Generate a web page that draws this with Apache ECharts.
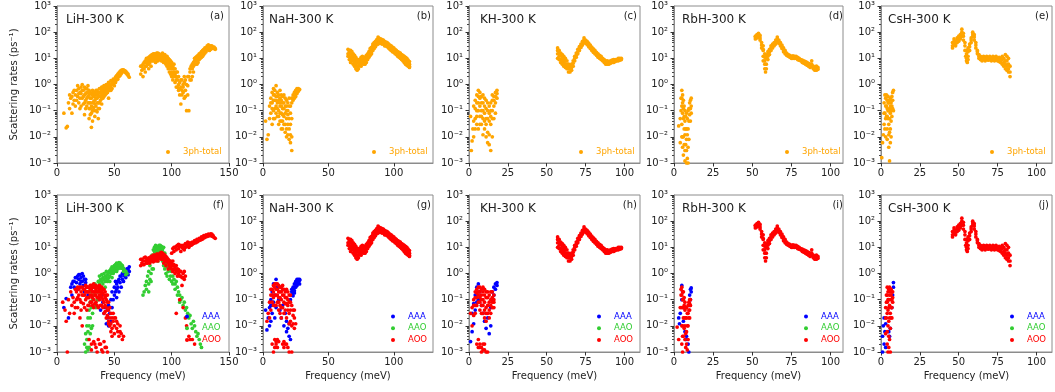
<!DOCTYPE html>
<html><head><meta charset="utf-8">
<script src="https://cdn.jsdelivr.net/npm/echarts@6/dist/echarts.min.js"></script>
<style>html,body{margin:0;padding:0;background:#fff}#c{width:1055px;height:392px}</style>
</head><body><div id="c"></div>
<script>
// ---------------- data (x = frequency meV, y = scattering rate ps^-1) ----------------
const lihTotal = [[6,0.08],[8,0.022],[9,0.025],[10,0.2],[11,0.12],[12,0.3],[13,0.08],[14,0.5],[15,0.25],[16,0.15],[17,0.6],[18,0.35],[18,0.9],[19,0.2],[20,0.5],[20,0.12],[21,0.8],[22,0.3],[22,1.0],[23,0.6],[23,0.18],[24,0.4],[24,0.07],[25,0.25],[25,0.7],[26,0.5],[26,0.15],[27,0.35],[27,0.9],[28,0.05],[28,0.2],[28,0.6],[29,0.3],[29,0.12],[30,0.45],[30,0.023],[30,0.08],[31,0.2],[31,0.6],[31,0.04],[32,0.35],[32,0.1],[32,0.13],[33,0.5],[33,0.25],[33,0.06],[34,0.4],[34,0.15],[35,0.3],[35,0.6],[35,0.09],[36,0.2],[36,0.45],[36,0.05],[37,0.35],[37,0.7],[37,0.12],[38,0.25],[38,0.5],[39,0.4],[39,0.8],[39,0.18],[40,0.3],[40,0.6],[41,0.5],[41,0.9],[42,0.4],[42,0.7],[43,0.6],[43,1.0],[44,0.5],[44,0.8],[45,0.3],[45,0.7],[45,1.2],[46,0.6],[46,1.0],[47,0.8],[47,1.4],[48,0.7],[48,1.2],[49,1.0],[49,1.6],[50,0.9],[50,1.4],[51,1.2],[51,1.9],[52,1.5],[52,2.2],[53,1.6],[53,2.5],[54,2.0],[54,2.8],[55,2.2],[55,3.2],[56,2.6],[56,3.5],[57,3.0],[57,3.6],[58,3.3],[59,3.0],[60,2.8],[61,2.5],[62,2.2],[63,1.9],
[11,0.4],[13,0.35],[14,0.18],[15,0.6],[16,0.4],[17,0.25],[19,0.45],[19,0.7],[20,0.3],[21,0.15],[21,0.45],[22,0.6],[23,0.35],[24,0.8],[24,0.2],[25,0.45],[25,0.12],[26,0.3],[26,0.7],[27,0.2],[27,0.5],[28,0.4],[28,0.12],[29,0.5],[29,0.2],[29,0.07],[30,0.3],[30,0.15],[31,0.4],[31,0.1],[32,0.5],[32,0.22],[33,0.4],[33,0.18],[34,0.3],[34,0.6],[34,0.1],[35,0.2],[35,0.45],[36,0.35],[36,0.12],[37,0.5],[37,0.2],[38,0.35],[38,0.7],[39,0.3],[39,0.6],[40,0.45],[40,0.8],[41,0.35],[41,0.7],[42,0.55],[42,0.9],[43,0.45],[43,0.8],[44,0.65],[44,1.0],[46,0.8],[47,0.6],[48,1.0],[49,1.3],[50,1.2],[51,1.6],[52,1.8],[53,2.0],[54,2.4],[55,2.7],[56,3.0],[57,3.3],[58,3.6],[59,3.4],[60,3.2],[61,2.8],[62,2.5],
[73,2.5],[73,5],[74,3.5],[75,6],[75,2],[76,4],[77,8],[77,3],[78,5],[79,10],[79,6],[80,4],[80,8],[81,12],[81,7],[82,9],[82,5],[83,14],[83,10],[84,8],[84,12],[85,15],[85,10],[86,12],[86,7],[87,16],[87,10],[88,13],[88,8],[89,15],[89,11],[90,12],[90,9],[91,14],[91,10],[92,16],[92,8],[93,12],[93,7],[94,11],[94,14],[95,9],[95,6],[96,10],[96,5],[97,8],[97,4],[98,7],[98,3],[99,6],[99,2.5],[100,5],[100,2],[101,4],[101,1.5],[102,3],[102,6],[103,2.5],[103,1.2],[104,2],[104,0.8],[105,1.5],[105,3],[106,1],[106,0.6],[107,1.2],[107,0.4],[108,0.8],[108,0.18],[109,0.6],[109,1.5],[110,0.5],[110,1.0],[111,0.3],[111,2],[112,0.6],[113,0.1],[113,1],[114,0.4],[115,0.1],[115,2],[116,3],[117,1.5],[117,5],[118,4],[119,7],[119,3],[120,6],[120,10],[121,8],[122,12],[122,6],[123,10],[124,15],[124,9],[125,13],[126,18],[126,11],[127,16],[128,22],[128,14],[129,20],[130,25],[130,18],[131,22],[131,30],[132,26],[133,28],[133,20],[134,25],[135,30],[136,27],[137,24],[138,22],
[74,5],[75,4],[76,7],[77,5],[78,7],[78,10],[79,8],[80,11],[80,6],[81,9],[82,11],[82,13],[83,8],[83,12],[84,10],[84,15],[85,12],[86,10],[86,14],[87,12],[87,8],[88,11],[88,16],[89,9],[89,13],[90,14],[90,11],[91,12],[91,8],[92,11],[92,13],[93,9],[93,14],[94,8],[95,12],[95,7],[96,8],[96,12],[97,6],[97,10],[98,5],[98,9],[99,4],[99,8],[100,3],[100,7],[101,2.5],[101,5],[102,2],[102,4],[103,4],[104,1.5],[104,3],[105,0.8],[106,2],[107,0.7],[108,1.5],[109,0.4],[110,0.8],[111,1.2],[112,1.5],[112,0.35],[114,2],[114,0.9],[116,1.5],[116,4],[118,2],[118,6],[119,5],[120,8],[121,6],[121,11],[122,9],[123,13],[123,7],[124,11],[125,16],[125,10],[126,14],[127,20],[127,12],[128,17],[129,25],[129,16],[130,21],[131,27],[132,22],[132,33],[133,25],[134,30],[134,22],[135,26],[136,24],[137,27],[138,24]];
const lihAAA = [[6,0.05],[8,0.11],[10,0.02],[12,0.3],[13,0.15],[14,0.5],[15,0.3],[16,0.7],[17,0.45],[18,0.8],[18,0.25],[19,0.6],[20,0.9],[20,0.4],[21,0.7],[22,0.5],[22,1.0],[23,0.35],[24,0.6],[24,0.2],[25,0.45],[26,0.3],[27,0.15],[38,0.04],[39,0.15],[40,0.08],[41,0.03],[42,0.05],[43,0.012],[44,0.02],[45,0.06],[45,0.01],[46,0.03],[47,0.015],[47,0.1],[48,0.05],[48,0.2],[49,0.1],[50,0.15],[50,0.3],[51,0.2],[52,0.4],[52,0.12],[53,0.3],[54,0.6],[54,0.2],[55,0.45],[56,0.8],[56,0.3],[57,0.6],[58,1.0],[58,0.5],[59,0.8],[60,1.2],[60,0.7],[61,1.0],[62,1.5],[62,0.9],[63,1.2],[63,1.8],
[13,0.4],[15,0.5],[17,0.7],[19,0.9],[21,0.5],[23,0.8],[25,0.6],[55,0.8],[57,1.0],[59,1.3],[61,1.5],[52,0.25],[51,0.5],[53,0.5]];
const lihAAO = [[24,0.002],[25,0.005],[25,0.001],[26,0.01],[26,0.003],[27,0.02],[27,0.006],[27,0.0012],[28,0.04],[28,0.01],[28,0.0015],[29,0.08],[29,0.02],[30,0.05],[30,0.2],[30,0.008],[31,0.1],[31,0.03],[32,0.15],[32,0.3],[33,0.06],[33,0.4],[34,0.2],[35,0.3],[35,0.1],[36,0.5],[36,0.2],[37,0.4],[37,0.8],[38,0.3],[38,0.6],[39,0.5],[39,0.9],[40,0.4],[40,0.7],[41,0.6],[41,1.0],[42,0.8],[42,0.5],[43,0.7],[43,1.2],[44,0.9],[44,0.5],[45,1.1],[45,0.7],[46,1.3],[46,0.8],[47,1.0],[47,1.5],[48,1.2],[48,1.8],[49,1.5],[49,1.0],[50,1.7],[50,2.0],[51,1.4],[51,2.2],[52,1.8],[52,2.5],[53,2.0],[53,1.5],[54,2.3],[54,2.6],[55,2.5],[55,1.8],[56,2.2],[57,2.0],[57,1.6],[58,1.6],[59,1.3],[60,1.2],[61,1.0],
[34,0.05],[36,0.1],[38,0.15],[40,0.25],[42,0.3],[44,0.6],[46,0.5],[48,0.7],[50,1.2],[52,1.2],[54,1.6],[56,1.6],[58,1.2],[60,0.9],[27,0.003],[29,0.005],[31,0.01],[26,0.0015],
[75,0.15],[76,0.2],[77,0.35],[78,0.5],[78,0.25],[79,0.8],[80,0.4],[80,1.2],[81,0.6],[81,2],[82,1],[82,3],[83,1.5],[83,5],[84,3],[84,8],[85,4],[85,10],[86,6],[86,12],[87,8],[87,5],[88,10],[88,3],[89,12],[89,7],[90,9],[90,5],[91,11],[91,4],[92,8],[92,3],[93,10],[93,2],[94,6],[94,1.5],[95,4],[95,1],[96,3],[96,0.8],[97,2.5],[98,2],[98,0.6],[99,1.5],[100,1.2],[100,0.5],[101,0.8],[102,0.6],[103,0.4],[104,0.5],[105,0.3],[106,0.2],[107,0.15],[108,0.1],[109,0.12],[110,0.06],[111,0.08],[112,0.04],[113,0.05],[114,0.03],[115,0.02],[116,0.025],[117,0.012],[118,0.008],[119,0.015],[120,0.01],[121,0.006],[122,0.004],[123,0.005],[124,0.003],[125,0.002],[126,0.0015],
[85,7],[86,9],[87,11],[88,7],[89,9],[90,12],[91,7],[92,10],[93,6],[94,4],[95,2.5],[96,1.8],[97,1.2],[99,0.8],[101,0.4],[103,0.25],[105,0.15],[107,0.08],[80,0.2],[82,0.5],[84,1.5]];
const lihAOO = [[5,0.08],[7,0.04],[8,0.015],[9,0.001],[10,0.1],[11,0.03],[12,0.2],[13,0.06],[14,0.12],[15,0.03],[16,0.25],[17,0.1],[18,0.3],[18,0.05],[19,0.15],[20,0.02],[21,0.2],[21,0.08],[22,0.3],[22,0.01],[23,0.15],[24,0.25],[24,0.05],[25,0.35],[25,0.1],[26,0.2],[26,0.04],[27,0.3],[27,0.12],[28,0.2],[28,0.06],[28,0.003],[29,0.35],[29,0.15],[30,0.25],[30,0.08],[30,0.002],[31,0.3],[31,0.12],[32,0.2],[32,0.4],[32,0.05],[33,0.3],[33,0.15],[33,0.002],[34,0.25],[34,0.08],[35,0.3],[35,0.12],[35,0.001],[36,0.2],[36,0.05],[36,0.003],[37,0.25],[37,0.1],[38,0.3],[38,0.15],[38,0.002],[39,0.2],[39,0.06],[40,0.25],[40,0.1],[40,0.001],[41,0.15],[41,0.03],[42,0.2],[42,0.06],[42,0.0015],[43,0.1],[43,0.02],[44,0.15],[44,0.04],[44,0.001],[45,0.08],[45,0.015],[46,0.05],[46,0.01],[47,0.03],[47,0.006],[48,0.02],[48,0.008],[49,0.015],[50,0.01],[50,0.005],[51,0.02],[52,0.008],[53,0.012],[54,0.004],[55,0.006],[57,0.003],
[15,0.08],[16,0.05],[17,0.2],[18,0.12],[19,0.25],[20,0.1],[20,0.3],[21,0.04],[22,0.15],[23,0.25],[23,0.07],[24,0.15],[25,0.2],[26,0.3],[26,0.12],[27,0.2],[27,0.06],[28,0.3],[28,0.12],[29,0.25],[29,0.08],[30,0.35],[30,0.15],[31,0.2],[31,0.06],[32,0.3],[32,0.1],[33,0.2],[33,0.07],[34,0.35],[34,0.15],[35,0.2],[35,0.06],[36,0.3],[36,0.12],[37,0.35],[37,0.15],[38,0.2],[38,0.06],[39,0.3],[39,0.12],[40,0.18],[40,0.05],[41,0.25],[41,0.08],[42,0.12],[42,0.035],[43,0.15],[43,0.05],[44,0.08],[44,0.025],[45,0.04],[45,0.012],[46,0.02],[47,0.012],[48,0.004],[49,0.03],[50,0.02],[52,0.015],[53,0.006],[55,0.01],[56,0.005],[58,0.004],[30,0.0012],[32,0.0025],[34,0.0015],[37,0.002],[39,0.0012],[41,0.0025],[43,0.0015],
[73,2],[73,3.5],[74,2.5],[75,3],[76,2.2],[76,4],[77,3],[78,2.5],[78,3.8],[79,3.2],[80,2.8],[80,4],[81,3.5],[82,3],[82,4.5],[83,3.5],[84,4],[84,2.8],[85,3.5],[85,5],[86,4.2],[87,3.6],[87,5.5],[88,4.5],[88,3],[89,5],[90,4],[90,6],[91,5],[91,3.5],[92,4.5],[92,6],[93,4],[93,2.5],[94,3.5],[94,5],[95,3],[95,2],[96,2.8],[96,4],[97,2.5],[97,1.5],[98,2],[98,3],[99,1.8],[100,1.5],[100,2.5],[101,1.2],[101,2],[102,1.5],[103,1],[103,1.8],[104,1.2],[105,0.8],[105,1.5],[106,1],[107,0.8],[108,1.2],[109,0.35],[109,0.7],[110,1],[111,0.6],[112,0.8],[104,0.03],[107,0.1],[110,0.05],[112,0.02],[113,0.01],[115,0.004],[116,0.003],[118,0.003],[120,0.002],
[74,3.5],[75,2.2],[77,4.2],[79,2.5],[81,2.5],[83,4.5],[84,5],[86,3],[88,5.5],[89,3.8],[90,5],[91,6.5],[92,3.5],[93,5.5],[94,2.8],[95,4.5],[96,3.5],[97,3.5],[98,2.5],[99,3],[100,2],[101,3],[102,2.2],[103,1.4],[104,2],[106,1.4],[107,1.2],[108,0.8],[110,0.7],[111,1.2],
[100,6],[101,9],[102,7],[103,10],[104,8],[105,12],[106,9],[107,11],[108,7],[109,10],[110,12],[111,8],[112,14],[113,11],[114,13],[115,10],[116,15],[117,12],[118,16],[119,14],[120,18],[121,15],[122,20],[123,17],[124,22],[125,19],[126,25],[127,21],[128,28],[129,24],[130,30],[131,26],[132,32],[133,28],[134,30],[135,27],[136,26],[137,24],[138,22],
[102,10],[104,11],[106,13],[108,12],[110,9],[112,10],[114,16],[116,12],[118,13],[120,15],[122,16],[124,19],[126,20],[128,23],[130,26],[132,28],[134,33],[135,32],[136,29]];

const nahLow = [[2,0.04],[3,0.008],[4,0.012],[5,0.05],[5,0.15],[6,0.3],[6,0.08],[7,0.5],[7,0.2],[7,0.03],[8,0.4],[8,0.1],[8,0.7],[9,0.25],[9,0.6],[9,0.05],[10,0.9],[10,0.35],[10,0.15],[11,0.5],[11,0.2],[11,0.06],[12,0.4],[12,0.1],[12,0.03],[13,0.3],[13,0.15],[13,0.6],[14,0.25],[14,0.08],[14,0.02],[15,0.35],[15,0.12],[15,0.04],[16,0.2],[16,0.06],[16,0.4],[17,0.15],[17,0.03],[17,0.3],[18,0.1],[18,0.02],[18,0.25],[19,0.07],[19,0.012],[19,0.2],[20,0.05],[20,0.008],[20,0.3],[21,0.006],[21,0.03],[21,0.15],[22,0.003],[22,0.2],[22,0.01],[23,0.3],[23,0.25],[24,0.4],[24,0.3],[25,0.5],[25,0.35],[26,0.6],[26,0.45],[27,0.7],[27,0.55],[28,0.65],
[6,0.2],[7,0.12],[8,0.25],[8,0.05],[9,0.4],[9,0.12],[10,0.25],[10,0.08],[11,0.35],[11,0.12],[12,0.25],[12,0.06],[13,0.2],[13,0.08],[13,0.04],[14,0.15],[14,0.4],[14,0.04],[15,0.2],[15,0.07],[15,0.02],[16,0.12],[16,0.03],[17,0.08],[17,0.015],[18,0.05],[18,0.15],[18,0.01],[19,0.1],[19,0.03],[20,0.15],[20,0.02],[21,0.08],[21,0.012],[22,0.05],[22,0.3],[23,0.4],[24,0.5],[25,0.6],[26,0.7],[27,0.6]];
const nahHigh = [[65,22],[65,15],[66,18],[66,12],[67,20],[67,10],[68,14],[68,8],[69,12],[69,6],[70,10],[70,5],[71,8],[71,4],[72,9],[72,3.5],[73,7],[73,5],[74,9],[74,6],[75,8],[75,5],[76,10],[76,7],[77,9],[77,6],[78,11],[78,8],[79,10],[79,13],[80,12],[80,9],[81,14],[81,18],[82,16],[82,20],[83,22],[83,18],[84,25],[84,30],[85,28],[85,35],[86,32],[86,40],[87,38],[87,45],[88,65],[88,40],[89,50],[89,42],[90,48],[90,38],[91,45],[91,35],[92,42],[92,50],[93,40],[93,33],[94,38],[94,30],[95,35],[95,28],[96,32],[96,25],[97,28],[97,22],[98,26],[98,20],[99,24],[99,18],[100,22],[100,17],[101,20],[101,15],[102,18],[102,14],[103,16],[103,12],[104,15],[104,11],[105,14],[105,10],[106,12],[106,9],[107,11],[107,8],[108,10],[108,7],[109,9],[109,6],[110,8],[110,5.5],[111,7],[111,5],[112,6],[112,4.5],
[65,12],[66,20],[66,9],[67,15],[67,7],[68,11],[68,18],[69,9],[69,15],[70,7],[70,13],[71,6],[71,11],[72,5],[72,7],[73,9],[73,4],[74,7],[75,11],[75,6],[76,8],[76,12],[77,7],[77,11],[78,9],[78,6],[79,11],[79,7],[80,15],[80,10],[81,11],[81,16],[82,13],[82,24],[83,15],[83,26],[84,20],[84,35],[85,24],[85,40],[86,28],[86,45],[87,33],[87,52],[88,35],[88,55],[89,38],[89,58],[90,42],[90,55],[91,40],[91,52],[92,36],[92,46],[93,30],[93,45],[94,34],[94,42],[95,30],[95,40],[96,28],[96,36],[97,25],[97,32],[98,22],[98,30],[99,20],[99,27],[100,19],[100,25],[101,17],[101,22],[102,16],[102,20],[103,14],[103,18],[104,13],[104,17],[105,12],[105,16],[106,10],[106,14],[107,9],[107,13],[108,8],[108,12],[109,7],[109,11],[110,6.5],[110,10],[111,6],[111,8.5],[112,5],[112,7.5]];
const nahAAA = [[2,0.04],[3,0.007],[4,0.02],[5,0.05],[6,0.1],[6,0.015],[7,0.03],[7,0.2],[8,0.08],[8,0.4],[9,0.15],[9,0.02],[10,0.6],[10,0.05],[11,0.3],[12,0.1],[13,0.04],[14,0.02],[15,0.06],[16,0.01],[17,0.03],[18,0.006],[18,0.015],[19,0.008],[20,0.004],[20,0.012],[21,0.003],[21,0.1],[22,0.15],[22,0.2],[23,0.25],[23,0.18],[24,0.3],[24,0.22],[25,0.4],[25,0.3],[26,0.5],[26,0.35],[27,0.6],[27,0.45],[28,0.55],[28,0.4],
[22,0.25],[23,0.3],[24,0.4],[25,0.5],[26,0.6],[27,0.5],[28,0.6],[23,0.14],[24,0.18],[5,0.01],[6,0.06]];
const nahAOOLow = [[3,0.015],[4,0.03],[5,0.08],[5,0.02],[6,0.15],[6,0.04],[7,0.25],[7,0.08],[7,0.002],[8,0.35],[8,0.12],[8,0.001],[9,0.3],[9,0.06],[9,0.003],[10,0.4],[10,0.15],[10,0.0025],[11,0.25],[11,0.08],[11,0.0015],[12,0.35],[12,0.12],[12,0.04],[13,0.2],[13,0.06],[14,0.3],[14,0.1],[14,0.02],[15,0.25],[15,0.05],[15,0.002],[16,0.15],[16,0.03],[16,0.0025],[17,0.2],[17,0.07],[17,0.002],[18,0.12],[18,0.02],[19,0.1],[19,0.04],[20,0.15],[20,0.03],[21,0.08],[21,0.015],[22,0.06],[22,0.01],[22,0.001],[23,0.04],[23,0.012],[24,0.02],[24,0.008],[25,0.012],
[6,0.25],[7,0.15],[8,0.2],[8,0.06],[9,0.15],[9,0.4],[10,0.25],[10,0.06],[11,0.4],[11,0.15],[12,0.2],[12,0.08],[13,0.3],[13,0.12],[13,0.03],[14,0.2],[14,0.05],[15,0.15],[15,0.35],[16,0.25],[16,0.08],[17,0.12],[17,0.04],[18,0.25],[18,0.07],[19,0.2],[19,0.06],[20,0.08],[20,0.012],[21,0.15],[21,0.04],[23,0.025],[24,0.04],[9,0.0015],[10,0.002],[11,0.003],[12,0.0025],[16,0.0015],[18,0.002],[19,0.0015],[20,0.001]];

const khLow = [[1,0.06],[1.5,0.003],[2,0.007],[2.5,0.02],[3,0.01],[3,0.15],[4,0.05],[4,0.25],[5,0.1],[5,0.4],[5,0.03],[6,0.6],[6,0.2],[6,0.02],[7,0.5],[7,0.15],[7,0.06],[8,0.35],[8,0.1],[8,0.03],[9,0.4],[9,0.2],[9,0.012],[10,0.3],[10,0.08],[10,0.02],[11,0.25],[11,0.05],[11,0.01],[12,0.2],[12,0.1],[12,0.006],[13,0.15],[13,0.04],[13,0.005],[14,0.2],[14,0.06],[14,0.003],[15,0.25],[15,0.1],[15,0.01],[16,0.35],[16,0.15],[16,0.05],[17,0.5],[17,0.2],[17,0.08],[18,0.6],[18,0.3],
[3,0.04],[4,0.12],[4,0.02],[5,0.2],[5,0.06],[6,0.35],[6,0.1],[7,0.3],[7,0.03],[8,0.2],[8,0.06],[9,0.1],[9,0.05],[10,0.15],[10,0.04],[11,0.12],[11,0.03],[12,0.05],[12,0.015],[13,0.08],[13,0.012],[14,0.1],[14,0.03],[15,0.4],[15,0.05],[16,0.25],[17,0.35],[18,0.45]];
const khHigh = [[57,25],[57,15],[57,10],[58,20],[58,12],[59,16],[59,9],[60,14],[60,8],[61,12],[61,7],[62,10],[62,6],[63,8],[63,5],[64,6],[64,4],[65,5],[65,3],[66,6],[66,3.5],[67,8],[67,5],[68,12],[68,8],[69,16],[69,11],[70,22],[70,15],[71,28],[71,20],[72,35],[72,26],[73,45],[73,32],[74,60],[74,40],[75,50],[75,38],[76,45],[76,33],[77,38],[77,28],[78,32],[78,24],[79,27],[79,20],[80,23],[80,17],[81,20],[81,15],[82,17],[82,13],[83,15],[83,11],[84,13],[84,10],[85,12],[85,9],[86,10],[86,8],[87,9],[87,7],[88,8],[88,6],[89,8],[89,6],[90,7.5],[90,6],[91,8],[91,6.5],[92,8.5],[92,7],[93,9],[93,7],[94,9],[94,7.5],[95,9],[95,8],[96,10],[96,8],[97,10],[98,9],
[57,20],[58,16],[58,9],[59,13],[59,7],[60,11],[60,6],[61,9],[61,5],[62,8],[62,4.5],[63,6],[63,4],[64,5],[64,3],[65,4],[66,4.5],[67,6.5],[68,10],[69,13],[70,18],[71,24],[72,30],[73,38],[74,50],[75,44],[76,40],[77,33],[78,28],[79,23],[80,20],[81,17],[82,15],[83,13],[84,11.5],[85,10.5],[86,9],[87,8],[88,7],[89,7],[90,6.5],[91,7],[92,7.5],[93,8],[94,8],[95,8.5],[96,9],[97,8.5],[98,10]];
const khAAA = [[1,0.0025],[2,0.006],[2,0.03],[3,0.07],[3,0.012],[4,0.15],[4,0.04],[5,0.3],[5,0.08],[6,0.4],[6,0.1],[7,0.2],[8,0.06],[9,0.03],[10,0.015],[11,0.008],[12,0.02],[13,0.005],[14,0.01],[14,0.05],[15,0.1],[15,0.2],[16,0.15],[16,0.3],[17,0.25],[17,0.4],[18,0.45],[18,0.35]];
const khAOOLow = [[1,0.03],[2,0.05],[2,0.01],[3,0.1],[3,0.025],[4,0.2],[4,0.06],[5,0.25],[5,0.12],[5,0.002],[6,0.3],[6,0.15],[6,0.003],[7,0.2],[7,0.08],[7,0.0015],[8,0.25],[8,0.1],[8,0.03],[8,0.001],[9,0.2],[9,0.06],[9,0.002],[10,0.15],[10,0.04],[10,0.0012],[11,0.2],[11,0.05],[11,0.015],[12,0.12],[12,0.03],[12,0.001],[13,0.15],[13,0.02],[14,0.1],[14,0.03],[15,0.12],[15,0.05],[16,0.08],[16,0.1],
[3,0.06],[4,0.12],[4,0.03],[5,0.18],[5,0.06],[6,0.2],[6,0.08],[7,0.3],[7,0.12],[7,0.04],[8,0.15],[8,0.06],[9,0.3],[9,0.1],[9,0.03],[10,0.25],[10,0.08],[10,0.02],[11,0.12],[11,0.03],[12,0.2],[12,0.06],[13,0.08],[13,0.04],[14,0.2],[14,0.06],[15,0.2],[15,0.08],[16,0.15],[16,0.05],[6,0.0015],[7,0.002],[8,0.0015],[9,0.0012],[10,0.002],[11,0.001]];

const rbhLow = [[3,0.026],[4,0.006],[4,0.05],[4.5,0.3],[5,0.6],[5,0.15],[5,0.03],[5.5,0.4],[5.5,0.08],[5.5,0.01],[6,0.25],[6,0.05],[6,0.002],[6.5,0.15],[6.5,0.02],[7,0.1],[7,0.012],[7,0.0012],[7.5,0.06],[7.5,0.005],[8,0.08],[8,0.003],[8,0.001],[8.5,0.05],[8.5,0.0015],[9,0.1],[9,0.02],[9,0.001],[9.5,0.12],[9.5,0.04],[10,0.2],[10,0.07],[10.5,0.25],[10.5,0.12],[11,0.3],[11,0.15],
[4.5,0.1],[5,0.3],[5,0.01],[5.5,0.2],[5.5,0.004],[6,0.12],[6,0.01],[6.5,0.06],[6.5,0.005],[7,0.04],[7,0.003],[7.5,0.02],[8,0.02],[8,0.008],[8.5,0.012],[9,0.004],[9.5,0.008],[10,0.12],[10.5,0.04],[11,0.08]];
const rbhHigh = [[52,55],[52,70],[53,80],[53,60],[54,90],[54,65],[55,75],[55,50],[56,40],[56,25],[57,20],[57,12],[57,30],[58,8],[58,4],[58,15],[58.5,3],[59,6],[59,10],[60,15],[60,9],[61,22],[61,14],[62,30],[62,20],[63,35],[63,25],[64,40],[64,30],[65,50],[65,35],[66,65],[66,45],[67,50],[67,38],[68,40],[68,30],[69,32],[69,24],[70,25],[70,18],[71,20],[71,15],[72,16],[72,13],[73,14],[73,12],[74,13],[74,11],[75,12],[75,10],[76,12.5],[76,10],[77,12],[77,10],[78,12],[78,10],[79,11],[79,9],[80,10],[80,8.5],[81,9],[81,8],[82,8.5],[82,7],[83,8],[83,6.5],[84,7.5],[84,6],[85,7],[85,5.5],[86,6.5],[86,5],[87,6],[87,4.5],[88,8],[88,5],[89,5],[89,4],[90,4.5],[90,3.5],[91,4],[91,3.5],[92,4.5],
[52,65],[53,70],[54,80],[55,60],[56,32],[57,22],[57,8],[58,6],[58,11],[59,4],[59,13],[60,12],[60,18],[61,18],[62,25],[63,30],[64,35],[65,42],[66,55],[67,44],[68,35],[69,28],[70,21],[71,17],[72,14],[73,13],[74,12],[75,11],[76,11],[77,11],[78,11],[79,10],[80,9],[81,8.5],[82,7.5],[83,7],[84,6.5],[85,6],[86,5.5],[87,5],[88,6],[89,4.5],[90,4],[91,5],[92,3.8]];
const rbhAAA = [[3,0.02],[3.5,0.012],[4,0.03],[5,0.35],[5,0.1],[5.5,0.2],[6,0.05],[6,0.015],[7,0.006],[7.5,0.003],[8,0.004],[9,0.002],[9.5,0.001],[10,0.06],[10,0.15],[10.5,0.1],[10.5,0.25],[11,0.2],[11,0.28]];
const rbhAOOLow = [[2,0.009],[3,0.003],[4,0.05],[4.5,0.15],[5,0.3],[5,0.05],[5,0.002],[5.5,0.2],[5.5,0.01],[5.5,0.001],[6,0.1],[6,0.02],[6,0.004],[6.5,0.06],[6.5,0.008],[7,0.04],[7,0.003],[7.5,0.02],[7.5,0.0015],[8,0.05],[8,0.006],[8.5,0.03],[8.5,0.0012],[9,0.06],[9,0.01],[9.5,0.08],[9.5,0.02],[10,0.1],[10,0.04],[10.5,0.06],
[4.5,0.25],[5,0.15],[5,0.01],[5.5,0.1],[5.5,0.004],[6,0.2],[6,0.05],[6.5,0.12],[6.5,0.02],[7,0.08],[7,0.01],[7.5,0.05],[7.5,0.005],[8,0.02],[8,0.002],[8.5,0.01],[9,0.03],[9,0.003],[9.5,0.04],[10,0.07],[10,0.02],[10.5,0.1]];

const cshLow = [[0.5,0.0016],[1,0.006],[1.5,0.012],[2,0.03],[2,0.2],[2.5,0.08],[2.5,0.4],[3,0.3],[3,0.05],[3,0.01],[3.5,0.15],[3.5,0.4],[4,0.25],[4,0.06],[4,0.02],[4.5,0.35],[4.5,0.1],[5,0.2],[5,0.03],[5,0.004],[5.5,0.12],[5.5,0.015],[5.5,0.0012],[6,0.3],[6,0.08],[6,0.006],[6.5,0.2],[6.5,0.04],[7,0.15],[7,0.35],[7.5,0.25],[7.5,0.5],[8,0.6],[8,0.1],
[2,0.08],[2.5,0.02],[3,0.15],[3.5,0.06],[4,0.12],[4,0.008],[4.5,0.05],[4.5,0.2],[5,0.1],[5,0.012],[5.5,0.25],[5.5,0.05],[6,0.15],[6,0.02],[6.5,0.1],[6.5,0.01],[7,0.06],[7.5,0.12]];
const cshHigh = [[46,25],[46,40],[47,35],[47,55],[48,45],[48,30],[49,60],[49,40],[50,70],[50,45],[51,80],[51,55],[52,130],[52,70],[53,90],[53,50],[54,40],[54,20],[54.5,12],[55,8],[55,15],[55.5,7],[56,12],[56,25],[57,35],[57,20],[58,60],[58,40],[59,100],[59,70],[60,80],[60,50],[61,40],[61,25],[62,20],[62,15],[63,14],[63,10],[64,12],[64,9],[65,10],[65,8],[66,12],[66,9],[67,11],[67,8],[68,12],[68,9],[69,11],[69,8.5],[70,12],[70,9],[71,10],[71,8],[72,12],[72,9],[73,11],[73,8],[74,12],[74,9],[75,10],[75,8],[76,11],[76,7.5],[77,10],[77,7],[78,12],[78,6],[79,10],[79,5],[80,14],[80,4],[81,12],[81,3.5],[82,10],[82,3],[83,5],[83,2],
[46,30],[47,45],[48,38],[49,50],[50,58],[51,65],[52,100],[53,70],[54,30],[55,10],[55,20],[56,9],[56,18],[57,28],[58,50],[59,85],[60,65],[61,32],[62,18],[63,12],[64,10],[65,9],[66,10.5],[67,9.5],[68,10.5],[69,10],[70,10.5],[71,9],[72,10.5],[73,9.5],[74,10.5],[75,9],[76,9],[77,8.5],[78,9],[79,7],[80,8],[80,6],[81,8],[81,5],[82,6],[82,4],[83,3]];
const cshAAA = [[1,0.001],[1,0.004],[1.5,0.01],[2,0.02],[2,0.002],[2.5,0.006],[3,0.012],[3,0.0015],[5,0.006],[5.5,0.004],[6,0.008],[7,0.05],[7.5,0.15],[8,0.3],[8,0.45]];
const cshAOOLow = [[3,0.05],[3,0.005],[3.5,0.15],[3.5,0.02],[4,0.3],[4,0.08],[4,0.002],[4.5,0.2],[4.5,0.04],[4.5,0.001],[5,0.25],[5,0.1],[5,0.015],[5.5,0.3],[5.5,0.06],[5.5,0.003],[6,0.2],[6,0.03],[6,0.001],[6.5,0.15],[6.5,0.05],[7,0.1],[7,0.02],[7.5,0.08],[7.5,0.2],
[3,0.02],[3.5,0.08],[4,0.15],[4,0.03],[4,0.006],[4.5,0.1],[4.5,0.01],[5,0.05],[5,0.004],[5,0.0015],[5.5,0.15],[5.5,0.02],[6,0.1],[6,0.008],[6.5,0.25],[6.5,0.02],[7,0.2],[7,0.05],[7.5,0.12]];

// ---------------- labels / ticks ----------------
const compounds = ['LiH', 'NaH', 'KH', 'RbH', 'CsH'];
const panelLetters = ['(a)','(b)','(c)','(d)','(e)','(f)','(g)','(h)','(i)','(j)'];
const xMax = [150, 130, 110, 108, 110];
const xTicks = [[0,50,100,150],[0,50,100],[0,25,50,75,100],[0,25,50,75,100],[0,25,50,75,100]];
const yTickValues = [0.001, 0.01, 0.1, 1, 10, 100, 1000];
const yTickLabels = ['10⁻³','10⁻²','10⁻¹','10⁰','10¹','10²','10³'];
const legendTop = ['3ph-total'];
const legendBottom = ['AAA', 'AAO', 'AOO'];
const seriesColors = {'3ph-total':'#FFA500', 'AAA':'#0000FF', 'AAO':'#32CD32', 'AOO':'#FF0000'};

const topData = [lihTotal, nahLow.concat(nahHigh), khLow.concat(khHigh), rbhLow.concat(rbhHigh), cshLow.concat(cshHigh)];
const botAAA = [lihAAA, nahAAA, khAAA, rbhAAA, cshAAA];
const botAAO = [lihAAO, [], [], [], []];
const botAOO = [lihAOO, nahAOOLow.concat(nahHigh), khAOOLow.concat(khHigh), rbhAOOLow.concat(rbhHigh), cshAOOLow.concat(cshHigh)];

// ---------------- layout ----------------
const FONT = 'DejaVu Sans';
const gridLeft = [57, 263, 469, 674, 881];
const gridW = [172, 170, 171, 169, 171];
const rowTop = [6, 195];
const gridH = 157;
const nameX = [66, 269, 480, 682, 888];
const letterRight = [224, 431, 637, 843, 1049];
const legendMarkerX = [[176, 382, 589, 795, 1000], [195, 401, 607, 814, 1020]];

const yMinor = [];
for (let e = -3; e < 3; e++) for (let m = 2; m <= 9; m++) yMinor.push(+(m * Math.pow(10, e)).toPrecision(3));

const grids = [], xAxes = [], yAxes = [], yMinorAxes = [], series = [], graphics = [], legends = [];
for (let r = 0; r < 2; r++) {
  for (let c = 0; c < 5; c++) {
    const g = r * 5 + c;
    grids.push({left: gridLeft[c], top: rowTop[r], width: gridW[c], height: gridH, show: true,
      borderColor: '#8c8c8c', borderWidth: 1, backgroundColor: 'transparent', containLabel: false, outerBoundsMode: 'none'});
    xAxes.push({type: 'value', gridIndex: g, min: 0, max: xMax[c],
      axisLine: {show: true, lineStyle: {color: '#8c8c8c', width: 1}},
      axisTick: {show: true, length: 3.5, customValues: xTicks[c], lineStyle: {color: '#333'}},
      axisLabel: {customValues: xTicks[c], fontFamily: FONT, fontSize: 10, color: '#222', margin: 5},
      splitLine: {show: false},
      name: r === 1 ? 'Frequency (meV)' : '', nameLocation: 'middle', nameGap: 19,
      nameTextStyle: {fontFamily: FONT, fontSize: 10, color: '#222'}});
    yAxes.push({type: 'log', logBase: 10, gridIndex: g, min: 0.001, max: 1000,
      axisLine: {show: true, lineStyle: {color: '#8c8c8c', width: 1}},
      axisTick: {show: true, length: 3.5, customValues: yTickValues, lineStyle: {color: '#333'}},
      axisLabel: {customValues: yTickValues, fontFamily: FONT, fontSize: 10, color: '#222', margin: 6,
        formatter: v => yTickLabels[Math.round(Math.log10(v)) + 3]},
      splitLine: {show: false}, minorTick: {show: false},
      name: c === 0 ? 'Scattering rates (ps⁻¹)' : '', nameLocation: 'middle', nameGap: 38,
      nameTextStyle: {fontFamily: FONT, fontSize: 10, color: '#222'}});
    yMinorAxes.push({type: 'log', logBase: 10, gridIndex: g, min: 0.001, max: 1000, position: 'left', show: true,
      axisLine: {show: false}, splitLine: {show: false},
      axisLabel: {show: true, customValues: yMinor, formatter: () => ''},
      axisTick: {show: true, length: 2, customValues: yMinor, lineStyle: {color: '#444'}}});
    const mk = (name, data) => ({type: 'scatter', name, xAxisIndex: g, yAxisIndex: g, data,
      symbol: 'circle', symbolSize: 3.7, itemStyle: {color: seriesColors[name], opacity: 1},
      emphasis: {disabled: true}, silent: true, animation: false});
    if (r === 0) {
      series.push(mk('3ph-total', topData[c]));
    } else {
      series.push(mk('AAA', botAAA[c]));
      series.push(mk('AAO', botAAO[c]));
      series.push(mk('AOO', botAOO[c]));
    }
    const names = r === 0 ? legendTop : legendBottom;
    legends.push({orient: 'vertical', left: legendMarkerX[r][c] - 10,
      top: r === 0 ? 147 : 311.5, padding: 0, itemGap: 1.7, itemWidth: 20, itemHeight: 4,
      icon: 'circle', selectedMode: false,
      textStyle: {fontFamily: FONT, fontSize: 8.5, lineHeight: 10},
      data: names.map(n => ({name: n, textStyle: {color: seriesColors[n]}}))});
    graphics.push({type: 'text', x: nameX[c], y: r === 0 ? 19.5 : 208.5, silent: true,
      style: {text: compounds[c] + '-300 K', fontFamily: FONT, fontSize: 12, fill: '#222', textVerticalAlign: 'middle'}});
    graphics.push({type: 'text', x: letterRight[c], y: r === 0 ? 16 : 205, silent: true,
      style: {text: panelLetters[g], fontFamily: FONT, fontSize: 10, fill: '#222', textAlign: 'right', textVerticalAlign: 'middle'}});
  }
}

const chart = echarts.init(document.getElementById('c'), null, {renderer: 'canvas'});
chart.setOption({
  animation: false,
  backgroundColor: '#ffffff',
  grid: grids,
  xAxis: xAxes,
  yAxis: yAxes.concat(yMinorAxes),
  legend: legends,
  series: series,
  graphic: graphics
});
</script>
</body></html>
